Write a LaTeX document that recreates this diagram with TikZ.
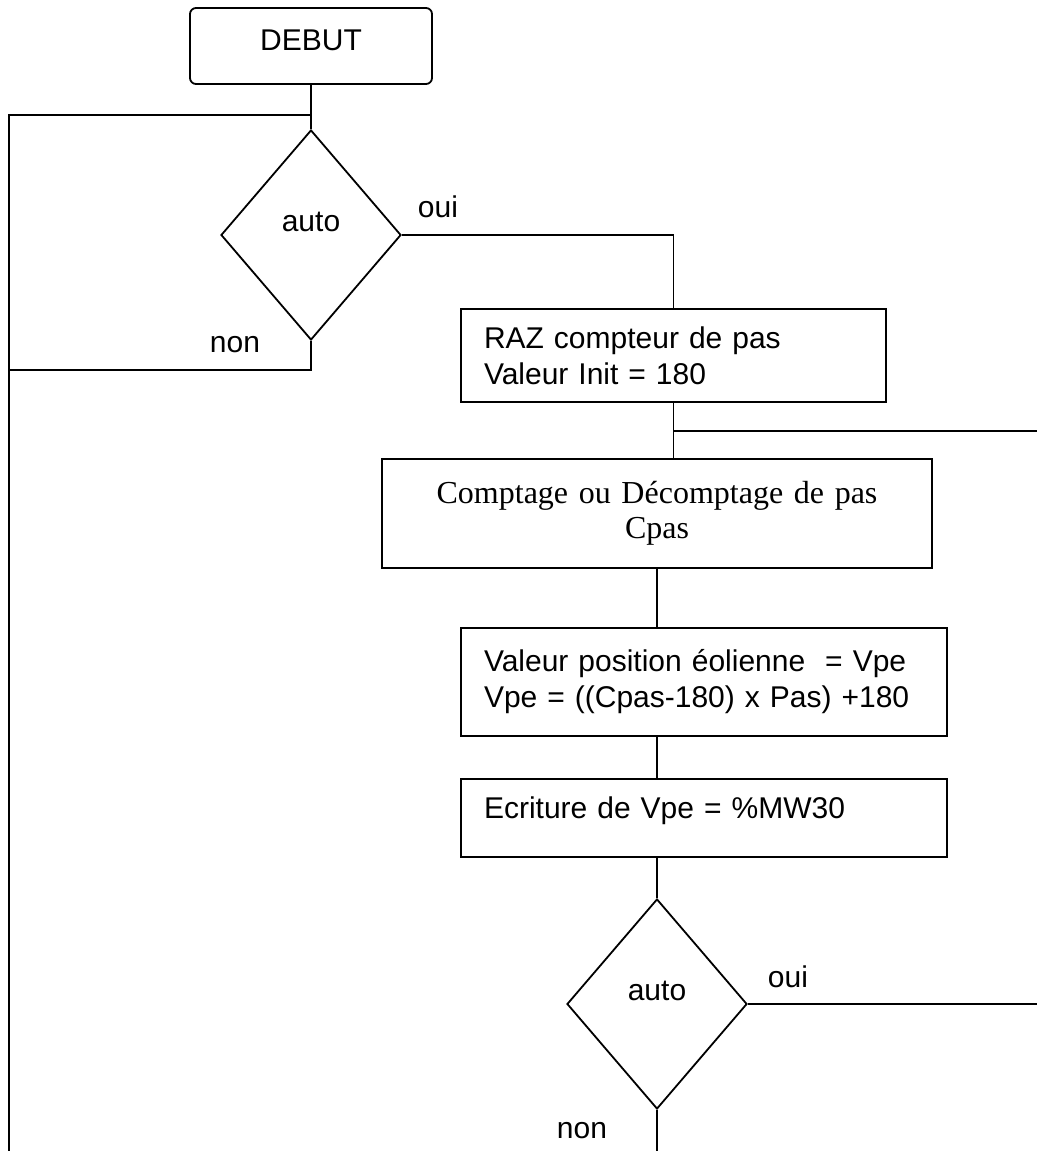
\documentclass[tikz,border=0pt]{standalone}
\usepackage{fontspec}
\setmainfont{Liberation Sans}
\newfontfamily\timesfont{Liberation Serif}
\usetikzlibrary{shapes.geometric}

\begin{document}
\begin{tikzpicture}[x=0.5pt, y=-0.5pt, line width=0.9pt,
    every node/.style={font=\fontsize{15pt}{18pt}\selectfont},
    start/.style={draw, rounded corners=3pt, minimum width=121pt, minimum height=38pt, text depth=6pt},
    decision/.style={draw, diamond, inner sep=0pt, minimum width=90pt, minimum height=105pt, text height=8pt, text depth=12pt},
    box/.style={draw, align=left, text width=189.5pt, inner xsep=11.5pt},
    widebox/.style={box, text width=220pt},
    serifbox/.style={draw, align=center, text width=260pt, inner xsep=7.5pt, minimum height=54.5pt,
        font=\timesfont\fontsize{16pt}{17.5pt}\selectfont}]
    \useasboundingbox (0,0) rectangle (1037,1151);

    % Start and first test
    \node[start] (debut) at (311,46) {DEBUT};
    \node[decision] (auto1) at (311,235) {auto};
    \node[anchor=base] (oui1) at (438,217) {oui};
    \node[anchor=base] (non1) at (235,352) {non};
    \draw (debut) -- (auto1);

    % Loop back on the left
    \coordinate (j1) at (311,115);
    \coordinate (l1) at (9,115);
    \coordinate (l2) at (9,1151);
    \coordinate (l3) at (9,370);
    \draw (j1) -- (l1) -- (l2);
    \draw (auto1.south) |- (l3);

    % Steps
    \node[box, minimum height=46.5pt] (raz) at (673.5,355.5) {RAZ compteur de pas\\Valeur Init = 180};
    \node[serifbox] (comptage) at (657,513.5) {Comptage ou Décomptage de pas\\Cpas};
    \node[widebox, minimum height=54pt] (vpe) at (704,682) {Valeur position éolienne\ \ = Vpe\\Vpe = ((Cpas-180) x Pas) +180};
    \node[widebox, minimum height=39pt, text height=11pt, text depth=11pt] (ecriture) at (704,818) {Ecriture de Vpe = \%MW30};
    \draw (auto1.east) -| (raz.north);
    \draw (raz.south) -- (raz.south |- comptage.north);
    \draw (comptage.south) -- (comptage.south |- vpe.north);
    \draw (comptage.south |- vpe.south) -- (comptage.south |- ecriture.north);

    % Branch to the right
    \coordinate (j2) at (raz.south |- 0,431);
    \coordinate (r1) at (1037,431);
    \draw (j2) -- (r1);

    % Second test
    \node[decision] (auto2) at (657,1004) {auto};
    \node[anchor=base] (oui2) at (788,987) {oui};
    \node[anchor=base] (non2) at (582,1138) {non};
    \coordinate (r2) at (1037,1004);
    \coordinate (b2) at (657,1151);
    \draw (auto2.north |- ecriture.south) -- (auto2.north);
    \draw (auto2.east) -- (r2);
    \draw (auto2.south) -- (b2);
\end{tikzpicture}
\end{document}
